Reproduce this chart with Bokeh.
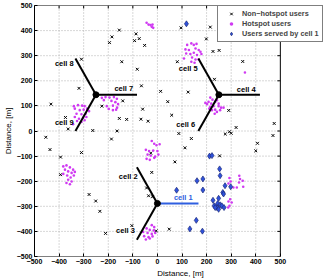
from bokeh.plotting import figure
from bokeh.models import FixedTicker, Legend, LegendItem, Range1d, Title
from bokeh.core.properties import value
from bokeh.embed import file_html
from bokeh.resources import INLINE
import math

# ---------------- data ----------------
tick_vals = [-500, -400, -300, -200, -100, 0, 100, 200, 300, 400, 500]
tick_labels = ["\u2212500", "\u2212400", "\u2212300", "\u2212200", "\u2212100", "0", "100", "200", "300", "400", "500"]

site_x = [0.0, 250.0, -250.0]
site_y = [-288.7, 144.3, 144.3]
sector_angles = [0, 120, 240]
sector_len = 167.0

cell_names = ["cell 1", "cell 2", "cell 3", "cell 4", "cell 5", "cell 6", "cell 7", "cell 8", "cell 9"]
cell_label_x = [67, -157, -168, 323, 87, 77, -175, -417, -417]
cell_label_y = [-263, -181, -395, 165, 250, 25, 169, 267, 32]

nonhot_x = [-155, -185, -195, -87, -74, -93, -52, -145, -82, -309, -319, -433, -65, 13, -226, -141,
            -155, -125, -67, -38, -60, -164, -187, -263, -363, -374,
            96, 215, 199, 226, 251, 81, 347, 125, 42, 58, 290, 232, 87, 138, 276, 293, 300, 320, 475, 470,
            -454, -437, -394, -309, -394, -278, -251, -234, -211, -104, -27, -23, -44, -36, -20, -5, 48,
            112, 71, 407, 400, 253]
nonhot_y = [402, 375, 352, 387, 368, 360, 341, 276, 246, 286, 170, 107, 180, 158, 99, 120,
            50, 46, 47, 39, 87, 0, -32, 2, 8, 54,
            411, 414, 367, 317, 321, 276, 277, 155, 117, 63, 82, 206, -10, -30, -12, -3, -9, 14, 30, -18,
            -25, -74, -104, -86, -174, -253, -279, -320, -408, -377, -88, -165, -227, -258, -262, -398, -391,
            -67, -123, -49, -79, -99]

hot_x = [-44, -36, -28, -20, -23, -17,
         121, 138, 148, 159, 114, 128, 155, 168, 175, 117, 134, 148, 161, 179, 141, 155, 168, 138, 151, 108,
         215, 224, 208, 219, 202, 235, 242, 228, 215, 249, 259, 235, 222, 242, 233, 195, 211, 249, 255, 269,
         356,
         -226, -211, -195, -177, -165, -187, -171, -160, -206, -181, -164, -198, -181, -168, -218,
         -340, -336, -323, -306, -296, -286, -300, -316, -329, -309, -292, -278, -336, -319, -302, -327, -309, -343, -289, -296,
         -383, -370, -356, -343, -376, -363, -349, -336, -383, -367, -353, -340, -363, -349, -370, -356,
         -23, -13, -4, 9, -47, -34, -17, 0, -40, -27, -9, 4, -44, -31, -13,
         -23, -13, -44, -31, -15, -58, -40, -23, -9, -54, -36, -20, -47, -31,
         293, 298, 289, 333, 336, 347, 349, 323, 309, 332, 296, 302, 289, 293, 288]
hot_y = [431, 424, 422, 424, 415, 411,
         343, 349, 343, 347, 325, 323, 329, 323, 316, 309, 307, 312, 303, 307, 293, 285, 285, 276, 272, 289,
         133, 125, 116, 109, 107, 116, 123, 99, 96, 99, 93, 85, 83, 76, 69, 112, 89, 109, 83, 93,
         233,
         132, 135, 133, 135, 128, 120, 115, 107, 99, 101, 93, 88, 83, 85, 123,
         99, 89, 103, 101, 99, 89, 85, 83, 69, 67, 69, 79, 56, 49, 53, 40, 36, 27, 56, 43,
         -141, -137, -145, -154, -154, -161, -167, -163, -171, -177, -185, -177, -194, -201, -207, -212,
         -40, -51, -57, -53, -75, -80, -78, -80, -94, -98, -102, -94, -111, -115, -107,
         -375, -383, -388, -394, -396, -402, -406, -410, -406, -419, -423, -420, -432, -428,
         -187, -201, -209, -178, -191, -198, -222, -225, -225, -205, -272, -285, -281, -298, -305]

cell1_x = [118, 212, 222, 253, 255, 161, 185, 185, 275, 298, 266, 269, 249, 226, 245, 231, 255, 242, 249,
           262, 271, 235, 158, 132, 183, 78]
cell1_y = [427, -100, -98, -151, -178, -198, -191, -235, -218, -222, -245, -251, -268, -276, -289, -298, -294,
           -305, -312, -298, -305, -305, -356, -390, -399, -236]

legend_labels = ["Non\u2212hotspot users", "Hotspot users", "Users served by cell 1"]
axis_title = "Distance, [m]"

# ---------------- layout ----------------
FONT = "Liberation Sans"
W, H = 331, 278
LEFT_GUESS, RIGHT_PAD = 35, 5
BOX_RIGHT_PX = 280                      # where the axes box ends (the legend sticks out past it)
frame_w = W - LEFT_GUESS - RIGHT_PAD
box_w = BOX_RIGHT_PX - LEFT_GUESS
lo, hi = tick_vals[0], tick_vals[-1]
x_end = lo + (hi - lo) * frame_w / box_w

p = figure(width=W, height=H, x_range=Range1d(lo, x_end), y_range=Range1d(lo, hi),
           output_backend="svg", toolbar_location=None,
           min_border_left=0, min_border_right=RIGHT_PAD, min_border_top=5, min_border_bottom=0)
p.background_fill_color = "white"
p.border_fill_color = "white"
p.outline_line_color = None
p.xgrid.visible = False
p.ygrid.visible = False

overrides = {v: l for v, l in zip(tick_vals, tick_labels)}
for ax in (p.xaxis[0], p.yaxis[0]):
    ax.ticker = FixedTicker(ticks=tick_vals)
    ax.major_label_overrides = overrides
    ax.major_label_text_font = FONT
    ax.major_label_text_font_size = "7px"
    ax.major_label_text_font_style = "bold"
    ax.major_label_text_color = "black"
    ax.major_tick_in = 3
    ax.major_tick_out = 0
    ax.minor_tick_line_color = None
    ax.major_tick_line_color = "black"
    ax.axis_label_text_font = FONT
    ax.axis_label_text_font_size = "8px"
    ax.axis_label_text_font_style = "normal"
    ax.axis_label_text_color = "black"
    ax.major_label_standoff = 2
    ax.axis_label_standoff = 1
p.yaxis[0].axis_label = axis_title
p.xaxis[0].axis_line_color = None
p.yaxis[0].axis_line_color = "black"

# x-axis title, centred under the box (not under the wider frame)
box_centre_px = (LEFT_GUESS + BOX_RIGHT_PX) / 2
frame_centre_px = (LEFT_GUESS + W - RIGHT_PAD) / 2
p.add_layout(Title(text=axis_title, align="center", offset=box_centre_px - frame_centre_px,
                   text_font=FONT, text_font_size="8px", text_font_style="normal",
                   text_color="black", standoff=1), "below")

# dotted grid inside the box
inner = tick_vals[1:-1]
n = len(inner)
p.segment(x0=inner, y0=[lo] * n, x1=inner, y1=[hi] * n, line_color="#b0b0b0", line_dash="1 2", line_width=1)
p.segment(x0=[lo] * n, y0=inner, x1=[hi] * n, y1=inner, line_color="#b0b0b0", line_dash="1 2", line_width=1)

# axes box and inward ticks on top / right
p.line(x=[lo, hi, hi, lo, lo], y=[lo, lo, hi, hi, lo], line_color="black", line_width=1)
tick_len = 12
m = len(tick_vals)
p.segment(x0=tick_vals, y0=[hi] * m, x1=tick_vals, y1=[hi - tick_len] * m, line_color="black", line_width=1)
p.segment(x0=[hi] * m, y0=tick_vals, x1=[hi - tick_len] * m, y1=tick_vals, line_color="black", line_width=1)

# users
r_non = p.scatter(nonhot_x, nonhot_y, marker="x", size=4, line_color="black", line_width=1)
r_hot = p.scatter(hot_x, hot_y, marker="circle", size=2.6, fill_color="#d03af2", line_color=None)
r_c1 = p.scatter(cell1_x, cell1_y, marker="diamond", size=6, fill_color="#2f52dc", line_color="#1c2a78", line_width=0.7)

# sector lines
xs, ys, cols = [], [], []
for i, (sx, sy) in enumerate(zip(site_x, site_y)):
    for a in sector_angles:
        xs.append([sx, sx + sector_len * math.cos(math.radians(a))])
        ys.append([sy, sy + sector_len * math.sin(math.radians(a))])
        cols.append("#2f5fe0" if (i == 0 and a == 0) else "black")
p.multi_line(xs=xs, ys=ys, line_color=cols, line_width=2)
p.scatter(site_x, site_y, marker="circle", size=6, color="black")

label_colors = ["#2f5fe0"] + ["black"] * 8
p.text(x=cell_label_x, y=cell_label_y, text=cell_names, text_color=label_colors,
       text_font=value(FONT), text_font_size="7.5px", text_font_style="bold",
       text_baseline="middle", text_align="left")

legend = Legend(items=[LegendItem(label=legend_labels[0], renderers=[r_non]),
                       LegendItem(label=legend_labels[1], renderers=[r_hot]),
                       LegendItem(label=legend_labels[2], renderers=[r_c1])],
                location=(218 - LEFT_GUESS, 214), border_line_color="black", border_line_width=1,
                background_fill_color="white", background_fill_alpha=1.0,
                label_text_font=FONT, label_text_font_size="7.3px", label_text_font_style="bold",
                glyph_width=20, glyph_height=9, label_height=9, spacing=1, padding=3,
                label_standoff=1, margin=0)
p.add_layout(legend)

open("out.html", "w").write(file_html(p, INLINE))
